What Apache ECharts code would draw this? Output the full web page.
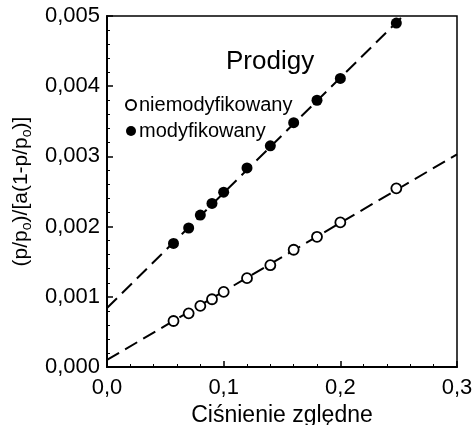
<!DOCTYPE html>
<html>
<head>
<meta charset="utf-8">
<script src="https://cdn.jsdelivr.net/npm/echarts@6/dist/echarts.min.js"></script>
<style>
  html, body { margin: 0; padding: 0; background: #fff; }
  #chart { width: 472px; height: 425px; }
</style>
</head>
<body>
<div id="chart"></div>
<script>
// measured points (relative pressure vs BET function)
const modX = [0.057, 0.07, 0.08, 0.09, 0.10, 0.12, 0.14, 0.16, 0.18, 0.20, 0.248];
const modY = [0.00176, 0.00198, 0.002165, 0.00233, 0.00249, 0.002835, 0.00315, 0.00348, 0.0038, 0.00411, 0.0049];
const nieX = [0.057, 0.07, 0.08, 0.09, 0.10, 0.12, 0.14, 0.16, 0.18, 0.20, 0.248];
const nieY = [0.000655, 0.000765, 0.00087, 0.000965, 0.00107, 0.001265, 0.00145, 0.00167, 0.001855, 0.00206, 0.002545];

// linear fits, drawn dashed over the whole axis range
const fitX = [0, 0.3];
const fitMod = [0.00084, 0.00576];
const fitNie = [0.0001, 0.00303];

const xTicks = ["0,0", "0,1", "0,2", "0,3"];
const yTicks = ["0,000", "0,001", "0,002", "0,003", "0,004", "0,005"];

const FONT = "Liberation Sans";

function pairs(xs, ys) {
  return xs.map((x, i) => [x, ys[i]]);
}

const chart = echarts.init(document.getElementById("chart"));

chart.setOption({
  animation: false,
  textStyle: { fontFamily: FONT, color: "#000" },
  title: {
    text: "Prodigy",
    left: 221,
    top: 44,
    textStyle: { fontFamily: FONT, fontSize: 26, fontWeight: "normal", color: "#000" },
  },
  legend: {
    data: ["niemodyfikowany", "modyfikowany"],
    orient: "vertical",
    left: 120,
    top: 90,
    itemWidth: 10,
    itemHeight: 10,
    itemGap: 6,
    textStyle: { fontFamily: FONT, fontSize: 20, color: "#000", padding: [0, 0, 0, -2] },
  },
  grid: {
    left: 107,
    right: 15,
    top: 16,
    bottom: 58,
    outerBoundsMode: "none",
    containLabel: false,
    show: true,
    borderColor: "#000",
    borderWidth: 1.5,
  },
  xAxis: {
    type: "value",
    min: 0,
    max: 0.3,
    interval: 0.1,
    name: "Ciśnienie zględne",
    nameLocation: "middle",
    nameGap: 33,
    nameTextStyle: { fontFamily: FONT, fontSize: 23, color: "#000" },
    axisLine: { lineStyle: { color: "#000", width: 2 } },
    axisTick: { inside: true, length: 6, lineStyle: { color: "#000", width: 1.5 } },
    minorTick: { show: true, splitNumber: 5, length: 3, lineStyle: { color: "#000", width: 1 } },
    splitLine: { show: false },
    axisLabel: {
      margin: 10,
      fontFamily: FONT,
      fontSize: 22,
      color: "#000",
      formatter: (v) => xTicks[Math.round(v * 10)],
    },
  },
  yAxis: {
    type: "value",
    min: 0,
    max: 0.005,
    interval: 0.001,
    name: "{t|(p/p}{s|o}{t|)/[a(1-p/p}{s|o}{t|)]}",
    nameLocation: "middle",
    nameGap: 73,
    nameTextStyle: {
      rich: {
        t: { fontFamily: FONT, fontSize: 21, color: "#000", lineHeight: 26 },
        s: { fontFamily: FONT, fontSize: 14, color: "#000", lineHeight: 26, verticalAlign: "bottom", padding: [6, 0, 0, 0] },
      },
    },
    axisLine: { lineStyle: { color: "#000", width: 2 } },
    axisTick: { inside: true, length: 6, lineStyle: { color: "#000", width: 1.5 } },
    minorTick: { show: true, splitNumber: 5, length: 3, lineStyle: { color: "#000", width: 1 } },
    splitLine: { show: false },
    axisLabel: {
      margin: 7,
      fontFamily: FONT,
      fontSize: 22,
      color: "#000",
      formatter: (v) => yTicks[Math.round(v * 1000)],
    },
  },
  series: [
    {
      name: "fit modyfikowany",
      type: "line",
      data: pairs(fitX, fitMod),
      symbol: "none",
      silent: true,
      lineStyle: { color: "#000", width: 2, type: [14, 7] },
      z: 1,
    },
    {
      name: "fit niemodyfikowany",
      type: "line",
      data: pairs(fitX, fitNie),
      symbol: "none",
      silent: true,
      lineStyle: { color: "#000", width: 2, type: [14, 7] },
      z: 1,
    },
    {
      name: "niemodyfikowany",
      type: "scatter",
      data: pairs(nieX, nieY),
      symbol: "circle",
      symbolSize: 10,
      itemStyle: { color: "#fff", borderColor: "#000", borderWidth: 1.8, opacity: 1 },
      z: 3,
    },
    {
      name: "modyfikowany",
      type: "scatter",
      data: pairs(modX, modY),
      symbol: "circle",
      symbolSize: 11,
      itemStyle: { color: "#000", opacity: 1 },
      z: 3,
    },
  ],
});
</script>
</body>
</html>
